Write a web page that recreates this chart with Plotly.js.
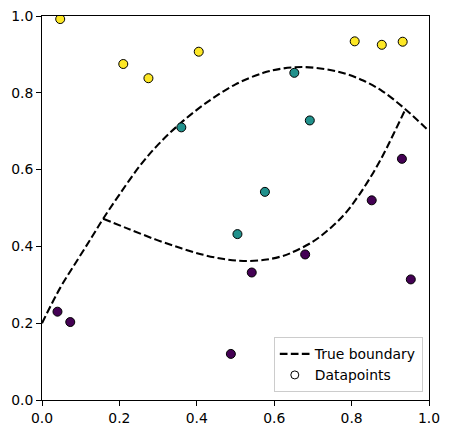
<!DOCTYPE html>
<html>
<head>
<meta charset="utf-8">
<script src="https://cdn.plot.ly/plotly-3.0.1.min.js"></script>
<style>html,body{margin:0;padding:0;background:#fff;}</style>
</head>
<body>
<div id="chart" style="width:450px;height:434px;"></div>
<script>
// Upper boundary curve
const upperX = [0, 0.047, 0.09, 0.128, 0.158, 0.2, 0.253, 0.3, 0.357, 0.426, 0.5, 0.572, 0.62, 0.675, 0.73, 0.78, 0.83, 0.88, 0.938, 1.0];
const upperY = [0.2, 0.292, 0.362, 0.423, 0.472, 0.535, 0.61, 0.665, 0.72, 0.775, 0.822, 0.852, 0.863, 0.867, 0.862, 0.851, 0.832, 0.804, 0.758, 0.70];
// Lower boundary curve
const lowerX = [0.158, 0.22, 0.296, 0.36, 0.417, 0.47, 0.52, 0.575, 0.615, 0.641, 0.701, 0.75, 0.787, 0.82, 0.856, 0.885, 0.908, 0.938];
const lowerY = [0.472, 0.447, 0.417, 0.395, 0.378, 0.367, 0.362, 0.365, 0.373, 0.382, 0.413, 0.452, 0.49, 0.535, 0.592, 0.645, 0.692, 0.755];

// Datapoints by class
const class0X = [0.04, 0.073, 0.488, 0.542, 0.68, 0.852, 0.93, 0.953];
const class0Y = [0.23, 0.203, 0.12, 0.332, 0.379, 0.52, 0.628, 0.314];
const class1X = [0.36, 0.652, 0.692, 0.576, 0.505];
const class1Y = [0.71, 0.852, 0.728, 0.542, 0.432];
const class2X = [0.047, 0.21, 0.275, 0.405, 0.808, 0.878, 0.932];
const class2Y = [0.992, 0.875, 0.838, 0.907, 0.934, 0.925, 0.933];

const classColors = ['#440154', '#21918c', '#fde725'];
const tickVals = [0, 0.2, 0.4, 0.6, 0.8, 1.0];
const tickText = ['0.0', '0.2', '0.4', '0.6', '0.8', '1.0'];

const dashLine = {color: '#000', width: 2.08, dash: '7.7px,3.3px', shape: 'spline', smoothing: 1};
const mk = (c) => ({size: 9, color: c, line: {color: '#000', width: 1}});

const traces = [
  {x: upperX, y: upperY, mode: 'lines', line: dashLine, name: 'True boundary', showlegend: true, hoverinfo: 'skip'},
  {x: lowerX, y: lowerY, mode: 'lines', line: dashLine, name: 'True boundary', showlegend: false, hoverinfo: 'skip'},
  {x: class0X, y: class0Y, mode: 'markers', marker: mk(classColors[0]), showlegend: false},
  {x: class1X, y: class1Y, mode: 'markers', marker: mk(classColors[1]), showlegend: false},
  {x: class2X, y: class2Y, mode: 'markers', marker: mk(classColors[2]), showlegend: false},
  {x: [null], y: [null], mode: 'markers', marker: {size: 8, color: '#ffffff', line: {color: '#000', width: 1}}, name: 'Datapoints', showlegend: true}
];

const axisBase = {
  range: [0, 1],
  tickvals: tickVals,
  ticktext: tickText,
  ticks: 'outside',
  ticklen: 5,
  tickwidth: 1,
  tickcolor: '#000',
  showline: true,
  linecolor: '#000',
  linewidth: 1,
  mirror: true,
  showgrid: false,
  zeroline: false,
  tickfont: {family: 'DejaVu Sans', size: 13.9, color: '#000'}
};

const layout = {
  width: 450,
  height: 434,
  margin: {l: 42, r: 21, t: 16, b: 34},
  paper_bgcolor: '#fff',
  plot_bgcolor: '#fff',
  xaxis: Object.assign({}, axisBase),
  yaxis: Object.assign({}, axisBase),
  showlegend: true,
  legend: {
    x: 0.984, y: 0.02, xanchor: 'right', yanchor: 'bottom',
    bgcolor: 'rgba(255,255,255,0.8)',
    bordercolor: '#cccccc', borderwidth: 1,
    font: {family: 'DejaVu Sans', size: 13.9, color: '#000'},
    itemwidth: 30,
    tracegroupgap: 0
  },
  font: {family: 'DejaVu Sans', color: '#000'}
};

Plotly.newPlot('chart', traces, layout, {staticPlot: true, displayModeBar: false});
</script>
</body>
</html>
